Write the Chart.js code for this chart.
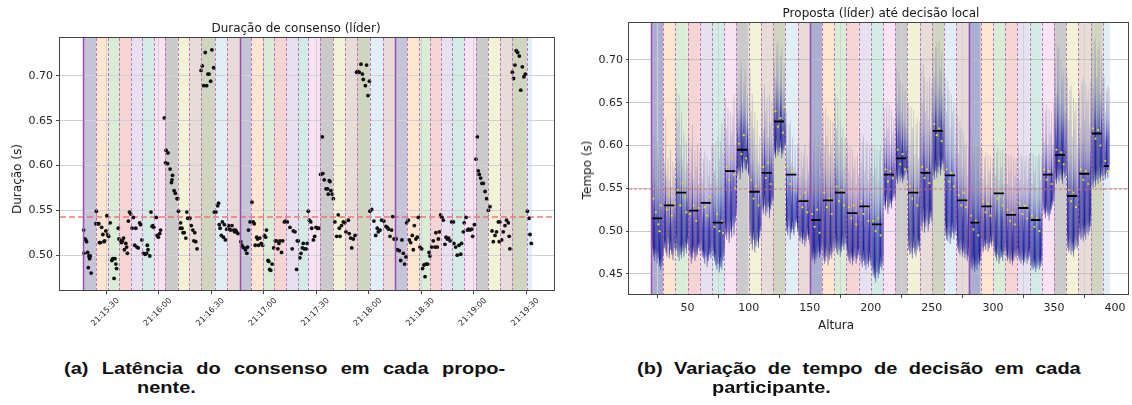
<!DOCTYPE html>
<html>
<head>
<meta charset="utf-8">
<script src="https://cdn.jsdelivr.net/npm/chart.js@4.4.1/dist/chart.umd.min.js"></script>
<style>
  body { margin: 0; background: #fff; width: 1132px; height: 405px; position: relative; overflow: hidden; font-family: 'DejaVu Sans', sans-serif; }
  canvas { position: absolute; top: 0; }
  #c1 { left: 0; }
  #c2 { left: 566px; }
  .t { position: absolute; font-size: 12px; color: #1a1a1a; white-space: nowrap; transform: translate(-50%, -50%); }
  .rot { transform: translate(-50%, -50%) rotate(-90deg); }
  .cap { position: absolute; font-family: 'Liberation Sans', Arial, sans-serif; font-weight: bold; font-size: 16px; line-height: 16px; color: #111; white-space: nowrap; transform-origin: 0 0; transform: scaleX(1.25); }
  .just { text-align: justify; text-align-last: justify; }
</style>
</head>
<body>
<canvas id="c1" width="566" height="330"></canvas>
<canvas id="c2" width="566" height="330"></canvas>

<div class="t" style="left:296px;top:28px">Duração de consenso (líder)</div>
<div class="t rot" style="left:17px;top:179px">Duração (s)</div>
<div class="t" style="left:881px;top:13px">Proposta (líder) até decisão local</div>
<div class="t rot" style="left:587px;top:170px">Tempo (s)</div>
<div class="t" style="left:836px;top:325px">Altura</div>

<div class="cap just" style="left:64px;top:361px;width:353px">(a) Latência do consenso em cada propo-</div>
<div class="cap" style="left:137px;top:380px">nente.</div>
<div class="cap just" style="left:637px;top:361px;width:355px">(b) Variação de tempo de decisão em cada</div>
<div class="cap" style="left:712px;top:380px">participante.</div>

<script>
// ---- (a) latência do consenso: segundos depois de 21:15:00 ----
const latT = [
  17.2, 17.4, 17.9, 18.4, 18.9, 19.5, 19.9, 20.2, 20.6, 21.0, 21.5,
  24.2, 24.5, 25.2, 25.9, 26.2, 26.8, 27.5, 28.2, 28.8, 29.2, 29.9, 30.5, 30.9, 31.5,
  32.4, 33.3, 33.8, 34.6, 35.1, 35.6, 36.0, 37.0, 37.4,
  38.4, 38.9, 39.4, 40.0, 40.5, 41.3, 41.8, 42.2, 42.8, 43.4,
  44.1, 44.9, 45.6, 46.4, 47.0, 47.6, 48.4, 49.2, 49.7,
  50.5, 51.4, 52.4, 53.2, 53.6, 54.0, 55.0, 55.7, 56.3, 56.8,
  57.3, 58.7, 59.2, 59.9, 60.7, 61.2, 63.3, 64.0, 64.3, 65.4,
  65.2, 66.6, 67.4, 67.7, 68.0, 68.9, 69.6, 70.6, 71.0,
  71.4, 72.6, 72.4, 73.4, 74.0, 74.7, 75.6, 76.2, 76.7, 77.3,
  77.9, 78.7, 79.6, 80.2, 80.7, 81.3, 82.0,
  84.3, 85.0, 85.8, 86.7, 87.5, 88.2, 88.9, 89.8, 90.5, 91.5,
  91.9, 92.8, 93.8, 94.3, 94.7, 95.2, 95.9, 96.5, 97.1, 97.6, 98.2, 99.0,
  100.0, 100.6, 101.2, 102.0, 103.0, 103.5, 104.0, 104.6, 105.4,
  107.0, 107.6, 108.2, 108.9, 109.7, 110.5, 110.9, 111.4, 112.3,
  113.4, 114.1, 114.7, 115.3, 116.1, 116.6, 117.2, 117.9, 118.7, 119.5,
  120.5, 121.2, 121.7, 122.6, 123.0, 123.5, 124.1, 124.9, 125.8,
  126.7, 127.3, 128.2, 128.8, 129.4, 130.3, 131.0, 131.9, 132.6, 133.6,
  135.1, 136.4, 137.0, 138.0, 138.9, 139.3, 139.9,
  140.8, 141.4, 142.2, 142.7, 143.3, 144.3, 145.0, 145.6,
  146.2, 147.0, 147.5, 148.5, 149.2, 150.0, 150.9, 151.6,
  152.6, 153.6, 153.9, 154.7, 155.7, 156.6, 157.0, 157.6, 158.0, 158.5, 159.3, 159.9,
  160.8, 161.8, 162.7, 163.3, 163.7, 164.6, 165.6, 166.5,
  167.1, 168.5, 169.0, 169.8, 170.4, 171.3, 172.3,
  173.2, 173.8, 174.7, 175.7, 176.5, 177.0, 178.2, 178.9, 179.7, 180.5,
  180.8, 181.8, 183.1, 184.1, 185.0, 185.6, 186.6, 187.5,
  188.8, 190.0, 190.7, 191.5, 192.3, 193.2, 193.8,
  194.6, 195.8, 196.5, 197.6, 198.4, 199.1, 199.9, 200.6, 201.4,
  201.8, 202.7, 203.3, 204.1, 205.0, 205.6, 206.2, 207.1, 207.9, 208.5,
  209.4, 210.4, 210.9, 211.7, 212.3, 212.8, 213.8, 214.6, 215.1,
  216.1, 217.0, 218.0, 218.5, 219.3, 219.9, 220.5, 221.2,
  222.0, 222.7, 223.7, 224.3, 225.0, 225.8, 226.6, 227.5,
  228.5, 228.8, 229.8, 230.7, 231.7, 232.7, 233.2, 234.2, 234.7,
  235.7, 236.5, 237.2, 238.0, 239.0, 239.5, 240.5,
  241.4, 242.2, 242.7, 243.3, 244.1, 244.8, 245.6, 246.6, 247.5, 248.5, 249.4,
  250.6, 251.3, 252.3, 253.2, 254.2, 254.7, 255.1,
  256.1, 257.0, 258.0, 258.9, 259.9, 260.4, 260.8,
  262.2, 262.9, 263.7, 264.4, 265.2, 266.2, 267.0, 267.9, 268.8, 269.6,
  270.8, 271.7, 272.3, 273.0
];
const latV = [
  0.528, 0.502, 0.518, 0.517, 0.515, 0.503, 0.486, 0.499, 0.496, 0.499, 0.480,
  0.535, 0.549, 0.535, 0.535, 0.514, 0.514, 0.531, 0.523, 0.515, 0.516, 0.527, 0.544, 0.523, 0.521,
  0.536, 0.494, 0.496, 0.474, 0.496, 0.490, 0.485, 0.530, 0.518,
  0.516, 0.514, 0.516, 0.519, 0.506, 0.513, 0.509, 0.502, 0.538, 0.548,
  0.546, 0.530, 0.542, 0.511, 0.530, 0.509, 0.508, 0.536, 0.534,
  0.517, 0.502, 0.501, 0.502, 0.511, 0.506, 0.499, 0.548, 0.532, 0.533,
  0.531, 0.542, 0.522, 0.520, 0.524, 0.528, 0.653, 0.603, 0.617, 0.614,
  0.602, 0.596, 0.581, 0.584, 0.589, 0.572, 0.569, 0.563, 0.563,
  0.549, 0.536, 0.530, 0.530, 0.525, 0.525, 0.519, 0.548, 0.541, 0.541,
  0.541, 0.533, 0.528, 0.516, 0.525, 0.515, 0.507,
  0.706, 0.711, 0.689, 0.726, 0.689, 0.702, 0.702, 0.694, 0.729, 0.709,
  0.548, 0.548, 0.555, 0.558, 0.534, 0.530, 0.522, 0.537, 0.520, 0.534, 0.517, 0.529,
  0.533, 0.529, 0.528, 0.533, 0.528, 0.526, 0.528, 0.526, 0.524,
  0.515, 0.511, 0.509, 0.508, 0.506, 0.502, 0.509, 0.528, 0.537,
  0.559, 0.537, 0.535, 0.511, 0.520, 0.518, 0.511, 0.519, 0.513, 0.511,
  0.522, 0.520, 0.528, 0.494, 0.493, 0.484, 0.483, 0.490, 0.508,
  0.516, 0.516, 0.507, 0.513, 0.516, 0.503, 0.516, 0.537, 0.538, 0.537,
  0.531, 0.507, 0.527, 0.526, 0.484, 0.516, 0.516,
  0.497, 0.502, 0.508, 0.513, 0.507, 0.507, 0.513, 0.549,
  0.539, 0.537, 0.530, 0.517, 0.521, 0.531, 0.530, 0.530,
  0.590, 0.632, 0.591, 0.584, 0.574, 0.574, 0.568, 0.583, 0.582, 0.572, 0.568, 0.563,
  0.537, 0.521, 0.545, 0.530, 0.521, 0.533, 0.537, 0.536,
  0.526, 0.539, 0.524, 0.519, 0.508, 0.518, 0.522,
  0.704, 0.705, 0.704, 0.713, 0.702, 0.696, 0.689, 0.712, 0.678, 0.694,
  0.549, 0.551, 0.538, 0.522, 0.530, 0.526, 0.528, 0.539,
  0.538, 0.532, 0.531, 0.529, 0.521, 0.528, 0.543,
  0.518, 0.518, 0.506, 0.505, 0.494, 0.517, 0.502, 0.490, 0.498,
  0.536, 0.539, 0.517, 0.514, 0.522, 0.506, 0.533, 0.518, 0.520, 0.542,
  0.509, 0.507, 0.485, 0.489, 0.476, 0.490, 0.490, 0.503, 0.499,
  0.509, 0.516, 0.509, 0.525, 0.509, 0.518, 0.526, 0.545,
  0.542, 0.539, 0.512, 0.520, 0.518, 0.519, 0.516, 0.537,
  0.537, 0.513, 0.509, 0.500, 0.511, 0.501, 0.513, 0.526, 0.536,
  0.542, 0.528, 0.529, 0.528, 0.529, 0.521, 0.534,
  0.607, 0.632, 0.594, 0.590, 0.586, 0.580, 0.580, 0.571, 0.563, 0.550, 0.554,
  0.527, 0.515, 0.522, 0.526, 0.537, 0.515, 0.537,
  0.517, 0.526, 0.533, 0.539, 0.536, 0.521, 0.507,
  0.704, 0.697, 0.712, 0.728, 0.726, 0.722, 0.684, 0.710, 0.699, 0.702,
  0.549, 0.541, 0.523, 0.513
];
const mediaLat = 0.5425;
// início de cada proponente (s depois de 21:15:00)
const bordasTempo = [16.9, 24.3, 31.1, 37.4, 44.3, 50.6, 57.4, 63.7, 71.1, 77.4, 84.3, 92.3, 99.1,
  106.6, 112.9, 119.7, 126.0, 132.9, 139.7, 145.4, 152.3, 159.7, 166.6, 173.4, 180.9, 188.3,
  195.1, 202.0, 208.9, 215.1, 221.4, 227.7, 234.6, 241.4, 248.3, 255.1, 262.0, 270.6, 273.4];

// ---- (b) proposta até decisão local, por altura ----
const bordasAltura = [20, 30, 40, 50, 60, 70, 80, 90, 100, 110, 120, 130, 140, 150, 160, 170, 180, 190,
  200, 210, 220, 230, 240, 250, 260, 270, 280, 290, 300, 310, 320, 330, 340, 350, 360, 370, 380, 390, 396];
const topo = [
  0.612, 0.575, 0.614, 0.560, 0.605, 0.585, 0.548, 0.600, 0.570, 0.590,
  0.580, 0.633, 0.565, 0.585, 0.560, 0.596, 0.552, 0.582, 0.575, 0.560,
  0.667, 0.630, 0.660, 0.600, 0.640, 0.585, 0.615, 0.570, 0.605, 0.580,
  0.612, 0.570, 0.598, 0.625, 0.560, 0.595, 0.575, 0.602, 0.555, 0.593,
  0.598, 0.560, 0.585, 0.594, 0.550, 0.588, 0.565, 0.583, 0.555, 0.600,
  0.600, 0.570, 0.605, 0.560, 0.610, 0.585, 0.605, 0.625, 0.590, 0.630,
  0.655, 0.620, 0.645, 0.600, 0.640, 0.615, 0.635, 0.660, 0.600, 0.650,
  0.672, 0.640, 0.690, 0.697, 0.650, 0.675, 0.690, 0.630, 0.660, 0.620,
  0.690, 0.640, 0.660, 0.620, 0.640, 0.600, 0.630, 0.580, 0.610, 0.575,
  0.668, 0.620, 0.672, 0.640, 0.655, 0.610, 0.660, 0.625, 0.652, 0.600,
  0.700, 0.680, 0.718, 0.722, 0.670, 0.705, 0.715, 0.665, 0.695, 0.650,
  0.640, 0.600, 0.625, 0.630, 0.580, 0.610, 0.575, 0.600, 0.570, 0.602,
  0.600, 0.565, 0.592, 0.575, 0.590, 0.602, 0.560, 0.588, 0.570, 0.605,
  0.618, 0.580, 0.605, 0.615, 0.570, 0.600, 0.612, 0.565, 0.598, 0.610,
  0.640, 0.600, 0.645, 0.610, 0.635, 0.590, 0.630, 0.600, 0.628, 0.580,
  0.660, 0.620, 0.655, 0.600, 0.630, 0.610, 0.620, 0.575, 0.610, 0.590,
  0.605, 0.570, 0.600, 0.560, 0.595, 0.575, 0.585, 0.555, 0.588, 0.565,
  0.618, 0.580, 0.605, 0.612, 0.570, 0.598, 0.605, 0.560, 0.600, 0.575,
  0.600, 0.565, 0.598, 0.575, 0.596, 0.560, 0.594, 0.600, 0.565, 0.598,
  0.645, 0.610, 0.650, 0.620, 0.648, 0.600, 0.642, 0.615, 0.632, 0.600,
  0.690, 0.650, 0.685, 0.675, 0.640, 0.672, 0.630, 0.665, 0.620, 0.650,
  0.650, 0.600, 0.645, 0.620, 0.642, 0.590, 0.625, 0.632, 0.585, 0.628,
  0.700, 0.650, 0.695, 0.680, 0.640, 0.675, 0.630, 0.680, 0.620, 0.672,
  0.705, 0.680, 0.715, 0.720, 0.670, 0.722, 0.690, 0.710, 0.660, 0.690,
  0.680, 0.640, 0.675, 0.665, 0.620, 0.660, 0.640, 0.650, 0.600, 0.645,
  0.635, 0.590, 0.628, 0.620, 0.575, 0.615, 0.600, 0.605, 0.565, 0.600,
  0.618, 0.575, 0.612, 0.590, 0.600, 0.560, 0.598, 0.605, 0.560, 0.600,
  0.595, 0.560, 0.586, 0.592, 0.555, 0.590, 0.570, 0.588, 0.550, 0.585,
  0.600, 0.565, 0.592, 0.598, 0.560, 0.594, 0.575, 0.596, 0.555, 0.590,
  0.590, 0.555, 0.588, 0.570, 0.590, 0.550, 0.586, 0.565, 0.585, 0.560,
  0.600, 0.560, 0.590, 0.585, 0.555, 0.582, 0.588, 0.560, 0.585, 0.590,
  0.592, 0.555, 0.590, 0.570, 0.588, 0.550, 0.586, 0.590, 0.560, 0.588,
  0.650, 0.605, 0.640, 0.648, 0.600, 0.642, 0.615, 0.640, 0.600, 0.650,
  0.700, 0.660, 0.718, 0.715, 0.650, 0.700, 0.680, 0.690, 0.640, 0.692,
  0.680, 0.630, 0.665, 0.670, 0.610, 0.655, 0.640, 0.650, 0.600, 0.652,
  0.665, 0.620, 0.675, 0.680, 0.630, 0.672, 0.650, 0.665, 0.625, 0.675,
  0.710, 0.670, 0.722, 0.725, 0.680, 0.712, 0.720, 0.660, 0.705, 0.680,
  0.680, 0.640, 0.665, 0.670, 0.668
];
const base = [
  0.478, 0.470, 0.465, 0.472, 0.462, 0.468, 0.458, 0.455, 0.460, 0.470,
  0.480, 0.475, 0.470, 0.485, 0.468, 0.478, 0.472, 0.466, 0.480, 0.475,
  0.478, 0.470, 0.465, 0.472, 0.468, 0.476, 0.470, 0.480, 0.474, 0.485,
  0.478, 0.470, 0.462, 0.468, 0.475, 0.465, 0.470, 0.472, 0.480, 0.476,
  0.478, 0.470, 0.468, 0.462, 0.470, 0.458, 0.465, 0.472, 0.468, 0.475,
  0.470, 0.465, 0.460, 0.455, 0.462, 0.452, 0.458, 0.455, 0.465, 0.470,
  0.495, 0.490, 0.498, 0.486, 0.500, 0.492, 0.505, 0.495, 0.510, 0.520,
  0.565, 0.570, 0.560, 0.575, 0.568, 0.580, 0.572, 0.570, 0.578, 0.565,
  0.495, 0.485, 0.478, 0.490, 0.475, 0.482, 0.488, 0.480, 0.492, 0.500,
  0.525, 0.520, 0.530, 0.518, 0.522, 0.528, 0.515, 0.525, 0.530, 0.535,
  0.590, 0.585, 0.595, 0.588, 0.592, 0.598, 0.585, 0.590, 0.595, 0.600,
  0.500, 0.495, 0.505, 0.490, 0.498, 0.502, 0.495, 0.505, 0.510, 0.500,
  0.495, 0.488, 0.492, 0.485, 0.490, 0.482, 0.488, 0.495, 0.490, 0.485,
  0.470, 0.465, 0.468, 0.462, 0.466, 0.470, 0.475, 0.468, 0.472, 0.478,
  0.468, 0.462, 0.465, 0.470, 0.460, 0.466, 0.472, 0.468, 0.475, 0.480,
  0.480, 0.475, 0.472, 0.478, 0.470, 0.476, 0.482, 0.478, 0.485, 0.480,
  0.470, 0.465, 0.462, 0.468, 0.460, 0.465, 0.470, 0.462, 0.468, 0.472,
  0.468, 0.462, 0.458, 0.465, 0.460, 0.455, 0.462, 0.458, 0.465, 0.460,
  0.455, 0.448, 0.445, 0.440, 0.452, 0.445, 0.450, 0.458, 0.455, 0.462,
  0.530, 0.525, 0.535, 0.520, 0.528, 0.532, 0.526, 0.535, 0.540, 0.538,
  0.560, 0.555, 0.565, 0.558, 0.562, 0.556, 0.560, 0.565, 0.570, 0.560,
  0.478, 0.472, 0.475, 0.468, 0.480, 0.474, 0.470, 0.478, 0.482, 0.476,
  0.505, 0.500, 0.510, 0.498, 0.505, 0.512, 0.500, 0.508, 0.515, 0.510,
  0.565, 0.560, 0.570, 0.562, 0.568, 0.575, 0.565, 0.572, 0.578, 0.570,
  0.495, 0.490, 0.488, 0.495, 0.485, 0.492, 0.498, 0.490, 0.495, 0.500,
  0.480, 0.475, 0.472, 0.478, 0.470, 0.475, 0.468, 0.472, 0.465, 0.470,
  0.462, 0.458, 0.455, 0.460, 0.452, 0.458, 0.455, 0.462, 0.460, 0.465,
  0.480, 0.475, 0.482, 0.478, 0.485, 0.476, 0.480, 0.486, 0.482, 0.488,
  0.475, 0.470, 0.465, 0.472, 0.462, 0.468, 0.470, 0.465, 0.472, 0.476,
  0.470, 0.465, 0.468, 0.462, 0.466, 0.460, 0.465, 0.470, 0.468, 0.472,
  0.468, 0.465, 0.462, 0.466, 0.460, 0.464, 0.468, 0.462, 0.466, 0.470,
  0.460, 0.456, 0.455, 0.458, 0.452, 0.456, 0.460, 0.455, 0.458, 0.462,
  0.525, 0.520, 0.515, 0.522, 0.518, 0.512, 0.520, 0.525, 0.530, 0.535,
  0.560, 0.555, 0.562, 0.558, 0.565, 0.560, 0.555, 0.568, 0.562, 0.565,
  0.480, 0.475, 0.478, 0.472, 0.476, 0.470, 0.478, 0.482, 0.480, 0.485,
  0.495, 0.490, 0.492, 0.488, 0.495, 0.490, 0.498, 0.495, 0.500, 0.505,
  0.555, 0.550, 0.558, 0.552, 0.560, 0.555, 0.562, 0.558, 0.565, 0.560,
  0.565, 0.560, 0.568, 0.562, 0.570
];
// média de cada participante (uma por faixa de 10 alturas)
const mediaBanda = [0.515, 0.530, 0.545, 0.524, 0.533, 0.510, 0.570, 0.595, 0.546, 0.568, 0.628, 0.566, 0.535,
  0.513, 0.536, 0.545, 0.521, 0.529, 0.508, 0.566, 0.585, 0.545, 0.568, 0.617, 0.565, 0.536,
  0.510, 0.529, 0.544, 0.519, 0.527, 0.513, 0.566, 0.589, 0.541, 0.567, 0.614, 0.576];
// decisões individuais (pontos amarelos)
const amarX = [22, 24, 26, 27, 28, 33, 35, 37, 39, 42, 44, 46, 48, 49, 52, 55, 57, 59, 62, 64, 66, 68,
  72, 74, 76, 78, 79, 82, 84, 86, 88, 89, 92, 94, 96, 98, 102, 104, 106, 108, 112, 114, 116, 118,
  122, 124, 126, 128, 129, 132, 134, 136, 138, 142, 144, 146, 148, 152, 154, 156, 158, 162, 164, 166, 168,
  172, 174, 176, 178, 182, 184, 186, 188, 192, 194, 196, 198, 202, 204, 206, 208, 212, 214, 216, 218,
  222, 224, 226, 228, 232, 234, 236, 238, 242, 244, 246, 248, 252, 254, 256, 258, 262, 264, 266, 268,
  272, 274, 276, 278, 282, 284, 286, 288, 292, 294, 296, 298, 302, 304, 306, 308, 312, 314, 316, 318,
  322, 324, 326, 328, 332, 334, 336, 338, 342, 344, 346, 348, 352, 354, 356, 358, 362, 364, 366, 368,
  372, 374, 376, 378, 382, 384, 386, 388, 392, 394];
const amarY = [0.538, 0.522, 0.508, 0.500, 0.530, 0.525, 0.541, 0.518, 0.532, 0.548, 0.530, 0.556, 0.540, 0.522,
  0.520, 0.530, 0.512, 0.527, 0.550, 0.528, 0.518, 0.540, 0.505, 0.520, 0.500, 0.512, 0.498,
  0.575, 0.560, 0.585, 0.566, 0.550, 0.602, 0.590, 0.612, 0.585, 0.560, 0.538, 0.552, 0.530,
  0.575, 0.562, 0.580, 0.555, 0.640, 0.622, 0.632, 0.615, 0.645, 0.575, 0.555, 0.570, 0.548,
  0.540, 0.528, 0.545, 0.522, 0.520, 0.505, 0.525, 0.498, 0.545, 0.528, 0.538, 0.520,
  0.552, 0.535, 0.548, 0.530, 0.528, 0.515, 0.530, 0.508, 0.535, 0.520, 0.528, 0.512,
  0.512, 0.500, 0.515, 0.495, 0.572, 0.558, 0.570, 0.562, 0.595, 0.578, 0.590, 0.572,
  0.552, 0.538, 0.548, 0.530, 0.575, 0.562, 0.572, 0.556, 0.625, 0.612, 0.620, 0.605,
  0.572, 0.558, 0.568, 0.552, 0.542, 0.530, 0.545, 0.528, 0.518, 0.502, 0.512, 0.495,
  0.535, 0.522, 0.532, 0.518, 0.550, 0.538, 0.545, 0.530, 0.525, 0.512, 0.522, 0.508,
  0.532, 0.520, 0.530, 0.515, 0.518, 0.505, 0.515, 0.500, 0.572, 0.560, 0.570, 0.555,
  0.595, 0.582, 0.592, 0.578, 0.548, 0.535, 0.545, 0.528, 0.572, 0.560, 0.570, 0.555,
  0.620, 0.608, 0.618, 0.600, 0.582, 0.570];
const limiarDecisao = 0.549;

const coresBandas = ['#c4c3d8', '#fde5d0', '#d9ecd5', '#f5d4d4', '#e7e0ef', '#d2ece5', '#f9e3f2',
  '#cacaca', '#f2f2d7', '#e8dcd9', '#cfd5bf', '#e2eef6', '#e9dada'];

Chart.defaults.font.family = "'DejaVu Sans', sans-serif";
Chart.defaults.color = '#262626';

// faixas coloridas de cada proponente + moldura do gráfico
const faixas = {
  id: 'faixas',
  beforeDraw(chart, args, o) {
    const {ctx, chartArea: a, scales: {x}} = chart;
    ctx.save();
    for (let i = 0; i < o.bordas.length - 1; i++) {
      const x0 = x.getPixelForValue(o.bordas[i]);
      const x1 = x.getPixelForValue(o.bordas[i + 1]);
      ctx.fillStyle = i % 13 === 0 ? o.primeira : coresBandas[i % 13];
      ctx.fillRect(x0, a.top, x1 - x0, a.bottom - a.top);
    }
    ctx.restore();
  },
  afterDatasetsDraw(chart, args, o) {
    const {ctx, chartArea: a, scales: {x}} = chart;
    ctx.save();
    for (let i = 0; i < o.bordas.length - 1; i++) {
      const px = Math.round(x.getPixelForValue(o.bordas[i])) + 0.5;
      const cheia = i % 13 === 0;
      ctx.strokeStyle = cheia ? '#9a4fae' : 'rgba(178,90,178,0.8)';
      ctx.lineWidth = cheia ? 1.5 : 1;
      ctx.setLineDash(cheia ? [] : [3, 2]);
      ctx.beginPath();
      ctx.moveTo(px, a.top);
      ctx.lineTo(px, a.bottom);
      ctx.stroke();
    }
    ctx.restore();
  },
  afterDraw(chart) {
    const {ctx, chartArea: a} = chart;
    ctx.save();
    ctx.strokeStyle = '#444';
    ctx.lineWidth = 1;
    ctx.strokeRect(Math.round(a.left) - 0.5, Math.round(a.top) - 0.5,
      Math.round(a.right - a.left) + 1, Math.round(a.bottom - a.top) + 1);
    ctx.restore();
  }
};

const grade = { color: '#d2d2d2', lineWidth: 1, tickLength: 4, tickColor: '#444' };

function hora(v) {
  const s = Math.round(15 * 60 + v);
  return '21:' + String(Math.floor(s / 60)).padStart(2, '0') + ':' + String(s % 60).padStart(2, '0');
}

// (a)
const tMin = 3.7, tMax = 286;
new Chart(document.getElementById('c1'), {
  type: 'scatter',
  data: {
    datasets: [
      {
        data: latT.map((t, i) => ({x: t, y: latV[i]})),
        pointRadius: 1.9,
        pointBackgroundColor: '#111',
        pointBorderWidth: 0
      },
      {
        type: 'line',
        data: [{x: tMin, y: mediaLat}, {x: tMax, y: mediaLat}],
        borderColor: 'rgba(236,100,100,0.85)',
        borderWidth: 1.5,
        borderDash: [6, 3],
        pointRadius: 0
      }
    ]
  },
  options: {
    responsive: false,
    animation: false,
    devicePixelRatio: 1,
    layout: {padding: {top: 38, right: 12, left: 0, bottom: 0}},
    plugins: {
      legend: {display: false},
      tooltip: {enabled: false},
      faixas: {bordas: bordasTempo, primeira: '#c4c3d8'}
    },
    scales: {
      x: {
        type: 'linear', min: tMin, max: tMax,
        afterFit: s => { s.height = 40; },
        ticks: {stepSize: 30, includeBounds: false, autoSkip: false, minRotation: 45, maxRotation: 45,
          labelOffset: 12, padding: 2, font: {size: 8}, callback: v => hora(v)},
        grid: grade,
        border: {display: false}
      },
      y: {
        min: 0.4611, max: 0.7422,
        afterFit: s => { s.width = 60; },
        ticks: {stepSize: 0.05, includeBounds: false, padding: 3, font: {size: 11}, callback: v => v.toFixed(2)},
        grid: grade,
        border: {display: false}
      }
    }
  },
  plugins: [faixas]
});

// (b)
const hMin = 2, hMax = 410.6;
const alturas = topo.map((_, i) => 21 + i);
const linhasMedia = [];
mediaBanda.forEach((m, i) => {
  linhasMedia.push({x: bordasAltura[i] + 0.5, y: m});
  linhasMedia.push({x: Math.min(bordasAltura[i] + 9.5, bordasAltura[i + 1] - 1), y: m});
  linhasMedia.push({x: bordasAltura[i] + 9.8, y: null});
});

function gradColuna(c) {
  const ch = c.chart, r = c.raw;
  if (!ch.chartArea || !r || !r.y) return 'rgba(30,30,160,0.7)';
  const ys = ch.scales.y;
  const yb = ys.getPixelForValue(r.y[0]), yt = ys.getPixelForValue(r.y[1]);
  if (Math.abs(yb - yt) < 1) return 'rgba(30,30,160,0.7)';
  const g = ch.ctx.createLinearGradient(0, yb, 0, yt);
  g.addColorStop(0, 'rgba(70,70,165,0.55)');
  g.addColorStop(0.1, 'rgba(15,15,145,0.93)');
  g.addColorStop(0.38, 'rgba(25,25,160,0.85)');
  g.addColorStop(0.64, 'rgba(95,95,178,0.5)');
  g.addColorStop(1, 'rgba(150,150,165,0.35)');
  return g;
}

new Chart(document.getElementById('c2'), {
  type: 'bar',
  data: {
    datasets: [
      {
        type: 'line',
        data: [{x: hMin, y: limiarDecisao}, {x: hMax, y: limiarDecisao}],
        borderColor: 'rgba(232,110,110,0.85)',
        borderWidth: 1,
        borderDash: [3, 2],
        pointRadius: 0
      },
      {
        type: 'line',
        data: linhasMedia,
        borderColor: '#000',
        borderWidth: 1.8,
        pointRadius: 0,
        spanGaps: false
      },
      {
        type: 'scatter',
        data: amarX.map((h, i) => ({x: h, y: amarY[i]})),
        pointRadius: 1.1,
        pointBackgroundColor: '#e4d82a',
        pointBorderWidth: 0
      },
      {
        type: 'bar',
        data: alturas.map((h, i) => ({x: h, y: [base[i], topo[i]]})),
        backgroundColor: gradColuna,
        borderWidth: 0,
        barPercentage: 0.85,
        categoryPercentage: 1
      }
    ]
  },
  options: {
    responsive: false,
    animation: false,
    devicePixelRatio: 1,
    layout: {padding: {top: 23, right: 1, left: 0, bottom: 0}},
    plugins: {
      legend: {display: false},
      tooltip: {enabled: false},
      faixas: {bordas: bordasAltura, primeira: '#aaaed0'}
    },
    scales: {
      x: {
        type: 'linear', min: hMin, max: hMax, offset: false,
        afterFit: s => { s.height = 36; },
        ticks: {stepSize: 50, includeBounds: false, maxRotation: 0, padding: 4, font: {size: 11}},
        grid: grade,
        border: {display: false}
      },
      y: {
        min: 0.4266, max: 0.743, z: 1,
        afterFit: s => { s.width = 63; },
        ticks: {stepSize: 0.05, includeBounds: false, padding: 3, font: {size: 11}, callback: v => v.toFixed(2)},
        grid: {color: 'rgba(190,190,190,0.8)', lineWidth: 1, tickLength: 3, tickColor: '#444'},
        border: {display: false}
      }
    }
  },
  plugins: [faixas]
});
</script>
</body>
</html>
